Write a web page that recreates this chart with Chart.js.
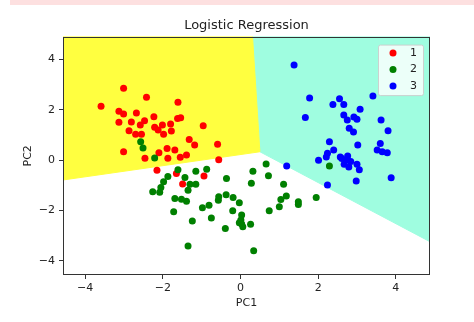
<!DOCTYPE html>
<html>
<head>
<meta charset="utf-8">
<script src="https://cdn.jsdelivr.net/npm/chart.js@4.4.1/dist/chart.umd.min.js"></script>
<style>
  html, body { margin: 0; padding: 0; background: #fff; }
  #wrap { position: relative; width: 474px; height: 322px; }
</style>
</head>
<body>
<div id="wrap"><canvas id="chart" width="474" height="322"></canvas></div>
<script>
// axis ranges and ticks
const xRange = [-4.57, 4.88];
const yRange = [-4.56, 4.9];
const xTicks = [-4, -2, 0, 2, 4];
const yTicks = [-4, -2, 0, 2, 4];

const classLabels = ['1', '2', '3'];
const classColors = ['#ff0000', '#008000', '#0000ff'];

// test set points, [PC1, PC2]
const class1 = [
  [-3.59, 2.14], [-3.01, 2.85], [-2.42, 2.49], [-3.13, 1.94], [-3.01, 1.83], [-3.13, 1.50],
  [-2.81, 1.51], [-2.68, 1.87], [-2.47, 1.56], [-2.23, 1.72], [-2.87, 1.16], [-2.70, 1.03],
  [-2.58, 1.39], [-2.55, 1.03], [-2.21, 1.30], [-2.12, 1.19], [-2.01, 1.39], [-1.98, 1.03],
  [-1.78, 1.15], [-1.80, 1.43], [-1.62, 1.65], [-1.54, 1.68], [-1.61, 2.29], [-0.96, 1.36],
  [-1.32, 0.82], [-1.18, 0.60], [-0.59, 0.63], [-3.01, 0.33], [-2.46, 0.07], [-2.10, 0.29],
  [-1.89, 0.46], [-1.69, 0.40], [-1.39, 0.20], [-1.55, 0.11], [-1.87, 0.07], [-0.56, 0.01],
  [-2.15, -0.40], [-1.65, -0.53], [-1.49, -0.95], [-0.94, -0.63]
];
const class2 = [
  [-2.57, 0.73], [-2.51, 0.48], [-2.21, 0.08], [-1.61, -0.38], [-1.15, -0.44], [-0.87, -0.36],
  [-1.87, -0.65], [-1.98, -0.86], [-1.43, -0.69], [-2.05, -1.09], [-1.30, -0.96], [-1.15, -0.96],
  [-2.26, -1.26], [-2.08, -1.28], [-1.35, -1.20], [-1.69, -1.52], [-1.52, -1.55], [-1.39, -1.63],
  [-1.72, -2.05], [-1.24, -2.42], [-0.98, -1.89], [-0.81, -1.79], [-0.75, -2.30], [-0.57, -1.59],
  [-0.56, -1.45], [-0.36, -0.73], [-0.37, -1.38], [-1.35, -3.41], [-0.19, -1.48], [-0.03, -1.69],
  [-0.20, -2.01], [-0.39, -2.71], [0.03, -2.18], [0.01, -2.38], [0.03, -2.54], [0.06, -2.65],
  [-0.03, -2.49], [0.26, -2.55], [0.32, -0.44], [0.66, -0.16], [0.72, -0.62], [0.28, -0.92],
  [1.11, -0.96], [1.04, -1.56], [1.18, -1.43], [1.00, -1.85], [1.49, -1.65], [1.49, -1.76],
  [1.95, -1.48], [0.74, -2.01], [0.34, -3.60], [2.29, -0.23]
];
const class3 = [
  [1.38, 3.77], [1.78, 2.46], [1.67, 1.69], [2.38, 2.21], [2.55, 2.43], [2.66, 2.21],
  [3.08, 2.02], [3.41, 2.54], [2.66, 1.79], [2.75, 1.59], [2.92, 1.71], [3.00, 1.62],
  [3.62, 1.59], [2.80, 1.26], [2.91, 1.11], [3.80, 1.16], [2.29, 0.73], [3.02, 0.60],
  [2.40, 0.40], [2.24, 0.27], [2.01, -0.01], [2.21, 0.12], [2.57, 0.12], [2.76, 0.16],
  [2.73, 0.00], [2.84, -0.06], [2.61, 0.06], [3.00, -0.17], [3.06, -0.38], [2.67, -0.17],
  [2.79, -0.27], [3.52, 0.40], [3.60, 0.66], [3.65, 0.33], [3.78, 0.29], [1.19, -0.23],
  [3.88, -0.70], [2.98, -0.83], [2.24, -0.99]
];

// decision regions (class 2 region is the white background)
const region1 = [[-4.57, 4.9], [0.31, 4.9], [0.5, 0.33], [-4.57, -0.79], [-4.57, 4.9]];
const region3 = [[0.31, 4.9], [4.88, 4.9], [4.88, -3.24], [0.5, 0.33], [0.31, 4.9]];
const regionColors = ['#ffff40', '#9ffde0'];

const toXY = arr => arr.map(p => ({ x: p[0], y: p[1] }));
const minus = v => String(v).replace('-', '\u2212');

Chart.defaults.font.family = '"DejaVu Sans", sans-serif';

const regionDataset = (pts, color) => ({
  data: toXY(pts),
  showLine: true,
  fill: 'shape',
  backgroundColor: color,
  borderColor: color,
  borderWidth: 1,
  pointRadius: 0,
  pointHoverRadius: 0,
  tension: 0,
  order: 10
});

const pointDataset = (label, pts, color, order) => ({
  label: label,
  data: toXY(pts),
  backgroundColor: color,
  borderColor: color,
  borderWidth: 0,
  pointRadius: 3.5,
  pointHoverRadius: 3.5,
  order: order,
  isClass: true
});

const topStrip = {
  id: 'topStrip',
  beforeDraw(chart) {
    const ctx = chart.ctx;
    ctx.save();
    ctx.fillStyle = '#fde0e0';
    ctx.fillRect(10, 0, chart.width - 10, 5);
    ctx.restore();
  }
};

const frame = {
  id: 'frame',
  afterDatasetsDraw(chart) {
    const { ctx, chartArea: a } = chart;
    ctx.save();
    ctx.strokeStyle = '#333';
    ctx.lineWidth = 1;
    ctx.strokeRect(Math.round(a.left) + 0.5, Math.round(a.top) + 0.5,
      Math.round(a.right - a.left) - 1, Math.round(a.bottom - a.top) - 1);
    ctx.restore();
  }
};

// matplotlib style legend in the upper right corner
const cornerLegend = {
  id: 'cornerLegend',
  afterDraw(chart) {
    const { ctx, chartArea: a } = chart;
    const items = chart.data.datasets.filter(d => d.isClass);
    const w = 45, rowH = 16.5, h = items.length * rowH + 1;
    const x0 = a.right - 7 - w, y0 = a.top + 8;
    ctx.save();
    ctx.fillStyle = 'rgba(255,255,255,0.8)';
    ctx.strokeStyle = 'rgba(204,204,204,0.9)';
    ctx.lineWidth = 1;
    ctx.beginPath();
    ctx.roundRect(x0 + 0.5, y0 + 0.5, w, h, 2);
    ctx.fill();
    ctx.stroke();
    ctx.font = '11px "DejaVu Sans"';
    ctx.textBaseline = 'middle';
    ctx.textAlign = 'left';
    items.forEach((d, i) => {
      const cy = y0 + 8.5 + i * rowH;
      ctx.fillStyle = d.backgroundColor;
      ctx.beginPath();
      ctx.arc(x0 + 15, cy, 3.5, 0, Math.PI * 2);
      ctx.fill();
      ctx.fillStyle = '#222';
      ctx.fillText(d.label, x0 + 32, cy);
    });
    ctx.restore();
  }
};

new Chart(document.getElementById('chart'), {
  type: 'scatter',
  data: {
    datasets: [
      pointDataset(classLabels[0], class1, classColors[0], 3),
      pointDataset(classLabels[1], class2, classColors[1], 2),
      pointDataset(classLabels[2], class3, classColors[2], 1),
      regionDataset(region1, regionColors[0]),
      regionDataset(region3, regionColors[1])
    ]
  },
  options: {
    responsive: false,
    animation: false,
    devicePixelRatio: 1,
    layout: { padding: { left: 0, right: 44, top: 0, bottom: 0 } },
    plugins: {
      legend: { display: false },
      tooltip: { enabled: false },
      title: {
        display: true,
        text: 'Logistic Regression',
        fullSize: false,
        color: '#222',
        font: { size: 13, weight: 'normal' },
        padding: { top: 18, bottom: 3 }
      }
    },
    scales: {
      x: {
        type: 'linear',
        min: xRange[0],
        max: xRange[1],
        afterBuildTicks: s => { s.ticks = xTicks.map(v => ({ value: v })); },
        afterFit: s => { s.height = 47; },
        grid: { drawOnChartArea: false, drawTicks: true, tickLength: 4, color: '#333' },
        border: { display: false },
        ticks: { color: '#222', font: { size: 11 }, padding: 3, maxRotation: 0, callback: v => minus(v) },
        title: { display: true, text: 'PC1', color: '#222', font: { size: 11 }, padding: { top: 0, bottom: 12 } }
      },
      y: {
        type: 'linear',
        min: yRange[0],
        max: yRange[1],
        afterBuildTicks: s => { s.ticks = yTicks.map(v => ({ value: v })); },
        afterFit: s => { s.width = 63; },
        grid: { drawOnChartArea: false, drawTicks: true, tickLength: 4, color: '#333' },
        border: { display: false },
        ticks: { color: '#222', font: { size: 11 }, padding: 4, callback: v => minus(v) },
        title: { display: true, text: 'PC2', color: '#222', font: { size: 11 }, padding: { top: 22, bottom: 0 } }
      }
    }
  },
  plugins: [topStrip, frame, cornerLegend]
});
</script>
</body>
</html>
